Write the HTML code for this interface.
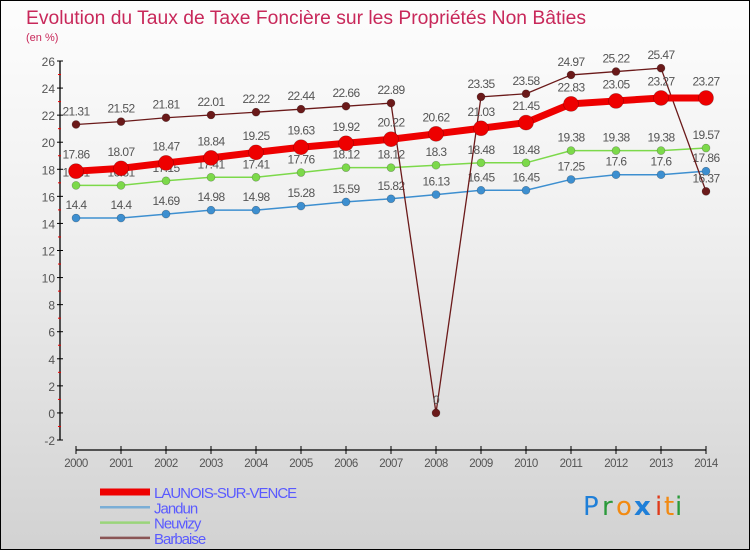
<!DOCTYPE html>
<html><head><meta charset="utf-8">
<style>
html,body{margin:0;padding:0}
body{width:750px;height:550px;overflow:hidden;font-family:"Liberation Sans",sans-serif}
#wrap{position:relative;width:748px;height:548px;border:1px solid #000;background:linear-gradient(#fdfdfd,#f0f0f0 40%,#d2d2d2)}
</style></head><body>
<div id="wrap">
<svg id="chart" width="748" height="548" viewBox="1 1 748 548" xmlns="http://www.w3.org/2000/svg">
<text x="26" y="24" font-size="19" fill="#c8285a" font-family="Liberation Sans,sans-serif" textLength="560" lengthAdjust="spacingAndGlyphs">Evolution du Taux de Taxe Foncière sur les Propriétés Non Bâties</text>
<text x="26" y="41" font-size="11" fill="#c8285a">(en %)</text>
<g id="axes"></g>
<g id="series"></g>
<g id="legend"></g>
<g font-size="26" font-family="DejaVu Sans,sans-serif">
<text x="583" y="515" fill="#1f7fd8">P</text><text x="602" y="515" fill="#2a9a3a">r</text><text x="616" y="515" fill="#f28a12">o</text><text x="634" y="515" fill="#1f7fd8" font-weight="bold">x</text><text x="655" y="515" fill="#e03a1a">i</text><text x="664" y="515" fill="#f28a12">t</text><text x="675" y="515" fill="#2a9a3a">i</text>
</g>
</svg>
</div>
<script>
const years=["2000","2001","2002","2003","2004","2005","2006","2007","2008","2009","2010","2011","2012","2013","2014"];
const yTicks=[-2,0,2,4,6,8,10,12,14,16,18,20,22,24,26];
const launois=[17.86,18.07,18.47,18.84,19.25,19.63,19.92,20.22,20.62,21.03,21.45,22.83,23.05,23.27,23.27];
const jandun=[14.4,14.4,14.69,14.98,14.98,15.28,15.59,15.82,16.13,16.45,16.45,17.25,17.6,17.6,17.86];
const neuvizy=[16.81,16.81,17.15,17.41,17.41,17.76,18.12,18.12,18.3,18.48,18.48,19.38,19.38,19.38,19.57];
const barbaise=[21.31,21.52,21.81,22.01,22.22,22.44,22.66,22.89,0,23.35,23.58,24.97,25.22,25.47,16.37];
const NS="http://www.w3.org/2000/svg";
const X0=76,X1=706,Y0=440,YMIN=-2,YMAX=26,YTOP=61;
const xs=i=>X0+(X1-X0)*i/(years.length-1);
const ys=v=>Y0-(v-YMIN)*(Y0-YTOP)/(YMAX-YMIN);
function mk(tag,attrs,parent){const e=document.createElementNS(NS,tag);for(const k in attrs)e.setAttribute(k,attrs[k]);parent.appendChild(e);return e;}
const axes=document.getElementById('axes');
const ya=mk('line',{x1:60,y1:YTOP,x2:60,y2:Y0,stroke:'#000','stroke-width':1.3},axes);


yTicks.forEach((v,i)=>{
 mk('line',{x1:57,y1:ys(v),x2:63,y2:ys(v),stroke:'#000'},axes);
 if(i<yTicks.length-1) mk('line',{x1:58,y1:ys(v+1),x2:61,y2:ys(v+1),stroke:'#e00'},axes);
 const t=mk('text',{x:55,y:ys(v)+5,'text-anchor':'end','font-size':12,fill:'#555'},axes);
 t.textContent=v;
 
 
});
const xa=mk('line',{x1:X0,y1:450,x2:X1,y2:450,stroke:'#000','stroke-width':1.3},axes);


years.forEach((y,i)=>{
 mk('line',{x1:xs(i),y1:446,x2:xs(i),y2:454,stroke:'#000'},axes);
 const t=mk('text',{x:xs(i),y:467,'text-anchor':'middle','font-size':11.5,fill:'#555','letter-spacing':'-0.5'},axes);
 t.textContent=y;
 
 
});
const sg=document.getElementById('series');
function draw(data,color,w,r,name){
 const g=mk('g',{},sg);
 
 
 mk('polyline',{points:data.map((v,i)=>xs(i)+','+ys(v)).join(' '),fill:'none',stroke:color,'stroke-width':w,'stroke-linejoin':'round'},g);
 data.forEach((v,i)=>{
  const c=mk('circle',{cx:xs(i),cy:ys(v),r:r,fill:color,stroke:'rgba(0,0,0,0.3)','stroke-width':0.6},g);
  
  
  const t=mk('text',{x:xs(i),y:ys(v)-r-5,'text-anchor':'middle','font-size':12,fill:'#555','letter-spacing':'-0.6'},g);
  t.textContent=v;
  
  
 });
}
draw(jandun,'#3d8fd0',1.5,4,'jandun-series');
draw(neuvizy,'#7cd94a',1.5,4,'neuvizy-series');
draw(barbaise,'#6b1a1a',1.3,4,'barbaise-series');
draw(launois,'#ee0000',7,7.5,'launois-series');
const lg=document.getElementById('legend');
const items=[["LAUNOIS-SUR-VENCE","#ee0000",7],["Jandun","#7aaed6",2.5],["Neuvizy","#9ad57a",2.5],["Barbaise","#8a5555",2.5]];
items.forEach((it,i)=>{
 const y=492+i*15.3;
 mk('line',{x1:100,y1:y,x2:150,y2:y,stroke:it[1],'stroke-width':it[2]},lg);
 const t=mk('text',{x:154,y:y+6,'font-size':15,fill:'#5a5aff','letter-spacing':'-1'},lg);
 t.textContent=it[0];
 
 
});
</script>
</body></html>
